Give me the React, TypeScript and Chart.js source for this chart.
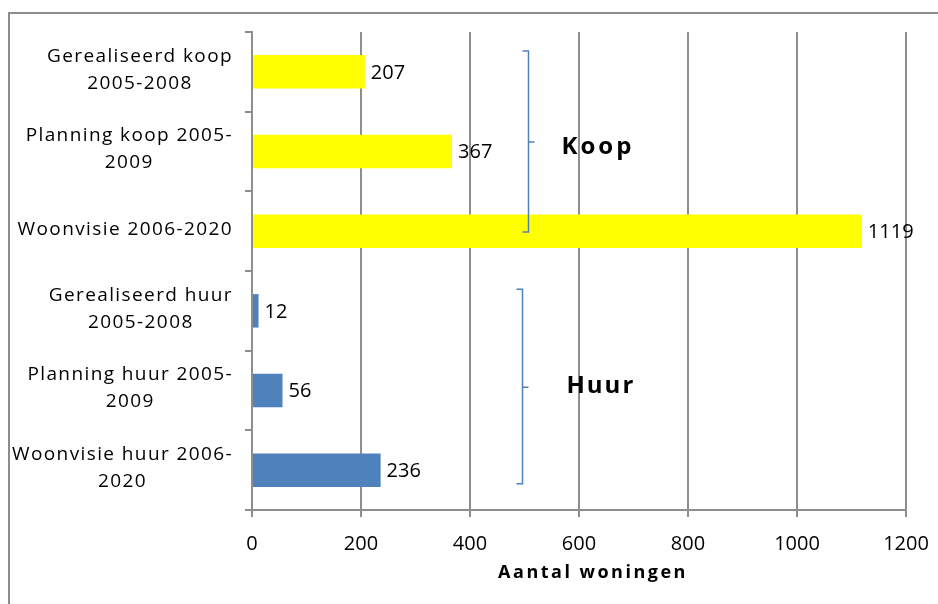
import React, { useEffect, useRef } from "react";
import { Chart, registerables } from "chart.js";

Chart.register(...registerables);

// Category labels (multi-line where the label wraps)
const categories: string[][] = [
  ["Gerealiseerd koop", "2005-2008"],
  ["Planning koop 2005-", "2009"],
  ["Woonvisie 2006-2020"],
  ["Gerealiseerd huur", "2005-2008"],
  ["Planning huur 2005-", "2009"],
  ["Woonvisie huur 2006-", "2020"],
];

// Number of dwellings per category
const values: number[] = [207, 367, 1119, 12, 56, 236];

// Bar colours: first three are "koop", last three are "huur"
const barColors: string[] = ["#FFFF00", "#FFFF00", "#FFFF00", "#4F81BD", "#4F81BD", "#4F81BD"];

const xTicks: number[] = [0, 200, 400, 600, 800, 1000, 1200];
const xTitle = "Aantal woningen";

// Group brackets (x in data units, y in category index units)
const groupBraces = [
  { label: "Koop", x: 506, top: -0.26, bottom: 2.01, mid: 0.88, labelX: 568, labelY: 0.94, spacing: 3 },
  { label: "Huur", x: 496, top: 2.73, bottom: 5.17, mid: 3.96, labelX: 577, labelY: 3.95, spacing: 2 },
];

const FONT = "'Open Sans', 'DejaVu Sans', sans-serif";
const GRID = "#8e8e8e";

const overlayPlugin = {
  id: "overlay",
  afterDatasetsDraw(chart: any) {
    const { ctx } = chart;
    const xs = chart.scales.x;
    const ys = chart.scales.y;
    ctx.save();

    // value labels at the end of each bar
    ctx.font = `20px ${FONT}`;
    ctx.fillStyle = "#000";
    ctx.textAlign = "left";
    ctx.textBaseline = "middle";
    const meta = chart.getDatasetMeta(0);
    meta.data.forEach((bar: any, i: number) => {
      ctx.fillText(String(values[i]), bar.x + 6, bar.y + 1);
    });

    // group brackets with their labels
    ctx.strokeStyle = "#4F81BD";
    ctx.lineWidth = 1.5;
    groupBraces.forEach((b) => {
      const x = Math.round(xs.getPixelForValue(b.x)) + 0.5;
      const y0 = ys.getPixelForValue(b.top);
      const y1 = ys.getPixelForValue(b.bottom);
      const ym = ys.getPixelForValue(b.mid);
      ctx.beginPath();
      ctx.moveTo(x - 6, y0);
      ctx.lineTo(x, y0);
      ctx.lineTo(x, y1);
      ctx.lineTo(x - 6, y1);
      ctx.moveTo(x, ym);
      ctx.lineTo(x + 6, ym);
      ctx.stroke();

      ctx.font = `bold 24px ${FONT}`;
      (ctx as any).letterSpacing = `${b.spacing}px`;
      ctx.fillStyle = "#000";
      ctx.textAlign = "left";
      ctx.textBaseline = "middle";
      ctx.fillText(b.label, xs.getPixelForValue(b.labelX), ys.getPixelForValue(b.labelY));
      (ctx as any).letterSpacing = "0px";
    });

    // category labels: right-aligned blocks, lines centred within each block
    ctx.font = `19px ${FONT}`;
    (ctx as any).letterSpacing = "1.4px";
    ctx.fillStyle = "#000";
    ctx.textAlign = "center";
    ctx.textBaseline = "middle";
    const right = chart.chartArea.left - 19;
    const lineH = 27;
    categories.forEach((lines, i) => {
      const w = Math.max(...lines.map((l) => ctx.measureText(l).width));
      const cx = right - w / 2;
      const cy = ys.getPixelForValue(i) - 2;
      const start = cy - ((lines.length - 1) * lineH) / 2;
      lines.forEach((l, k) => ctx.fillText(l, cx, start + k * lineH));
    });
    (ctx as any).letterSpacing = "0px";

    // axis title
    ctx.font = `bold 18px ${FONT}`;
    (ctx as any).letterSpacing = "2.5px";
    ctx.textAlign = "center";
    ctx.fillText(xTitle, (chart.chartArea.left + chart.chartArea.right) / 2 + 14, 573);
    (ctx as any).letterSpacing = "0px";

    // outer frame of the chart
    ctx.strokeStyle = "#8c8c8c";
    ctx.lineWidth = 2;
    ctx.beginPath();
    ctx.moveTo(9, chart.height);
    ctx.lineTo(9, 13);
    ctx.lineTo(chart.width, 13);
    ctx.stroke();

    ctx.restore();
  },
};

export default function App() {
  const ref = useRef<HTMLCanvasElement | null>(null);

  useEffect(() => {
    if (!ref.current) return;
    const chart = new Chart(ref.current, {
      type: "bar",
      data: {
        labels: categories,
        datasets: [
          {
            data: values,
            backgroundColor: barColors,
            borderWidth: 0,
            categoryPercentage: 1,
            barPercentage: 0.42,
          },
        ],
      },
      options: {
        indexAxis: "y",
        animation: false,
        responsive: false,
        devicePixelRatio: 1,
        layout: { padding: { left: 0, right: 32, top: 32, bottom: 0 } },
        plugins: {
          legend: { display: false },
          tooltip: { enabled: false },
        },
        scales: {
          x: {
            min: 0,
            max: 1200,
            afterFit: (s: any) => {
              s.height = 94;
              s.paddingLeft = 0;
              s.paddingRight = 0;
            },
            afterBuildTicks: (s: any) => {
              s.ticks = xTicks.map((v) => ({ value: v }));
            },
            border: { color: GRID, width: 2 },
            grid: { color: GRID, lineWidth: 2, tickLength: 7 },
            ticks: {
              color: "#000",
              padding: 15,
              font: { family: FONT, size: 20 },
              callback: (v: any) => String(v),
            },
          },
          y: {
            afterFit: (s: any) => {
              s.width = 252;
            },
            border: { color: GRID, width: 2 },
            grid: { color: GRID, lineWidth: 2, tickLength: 7, drawOnChartArea: false, offset: true },
            ticks: { display: false },
          },
        },
      },
      plugins: [overlayPlugin],
    });
    return () => chart.destroy();
  }, []);

  return (
    <div style={{ position: "fixed", left: 0, top: 0, width: 938, height: 604, background: "#fff" }}>
      <canvas ref={ref} width={938} height={604} style={{ display: "block" }} />
    </div>
  );
}
